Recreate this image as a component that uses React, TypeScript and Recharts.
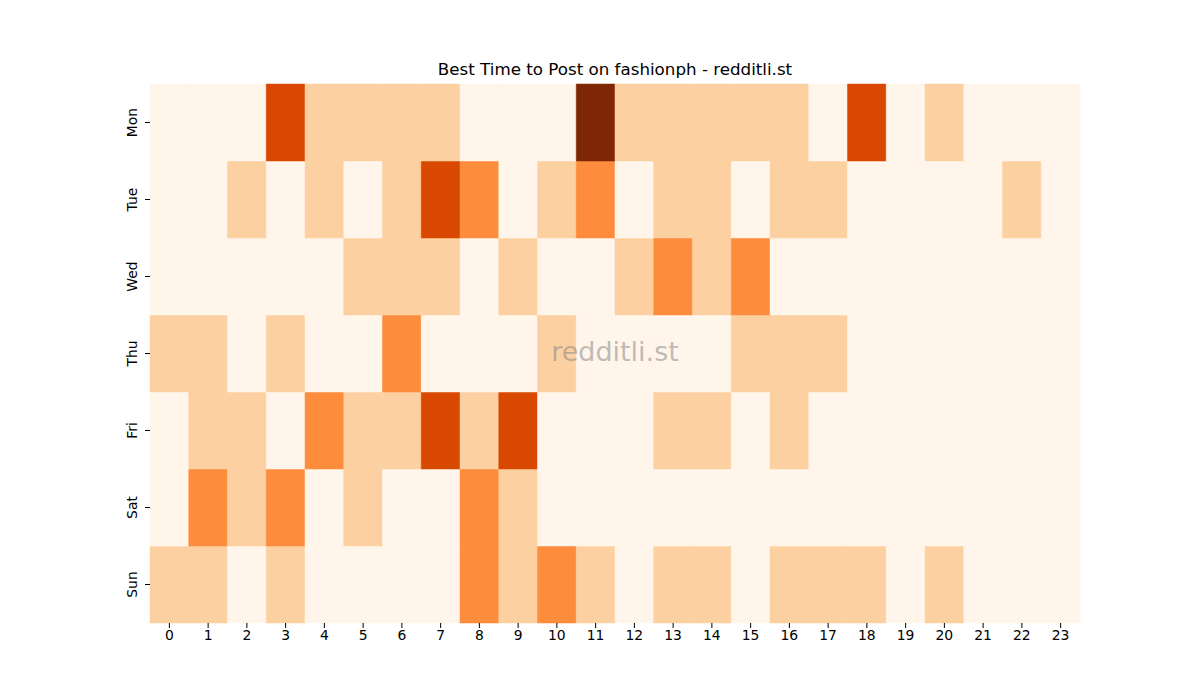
import { Bar, BarChart, Cell, XAxis, YAxis } from "recharts";

const hours = Array.from({ length: 24 }, (_, i) => String(i));
const days = ["Mon", "Tue", "Wed", "Thu", "Fri", "Sat", "Sun"];

// activity level per hour, 0 (lowest) .. 4 (highest)
const mon = [0, 0, 0, 3, 1, 1, 1, 1, 0, 0, 0, 4, 1, 1, 1, 1, 1, 0, 3, 0, 1, 0, 0, 0];
const tue = [0, 0, 1, 0, 1, 0, 1, 3, 2, 0, 1, 2, 0, 1, 1, 0, 1, 1, 0, 0, 0, 0, 1, 0];
const wed = [0, 0, 0, 0, 0, 1, 1, 1, 0, 1, 0, 0, 1, 2, 1, 2, 0, 0, 0, 0, 0, 0, 0, 0];
const thu = [1, 1, 0, 1, 0, 0, 2, 0, 0, 0, 1, 0, 0, 0, 0, 1, 1, 1, 0, 0, 0, 0, 0, 0];
const fri = [0, 1, 1, 0, 2, 1, 1, 3, 1, 3, 0, 0, 0, 1, 1, 0, 1, 0, 0, 0, 0, 0, 0, 0];
const sat = [0, 2, 1, 2, 0, 1, 0, 0, 2, 1, 0, 0, 0, 0, 0, 0, 0, 0, 0, 0, 0, 0, 0, 0];
const sun = [1, 1, 0, 1, 0, 0, 0, 0, 2, 1, 2, 1, 0, 1, 1, 0, 1, 1, 1, 0, 1, 0, 0, 0];

const levels: Record<string, number[]> = {
  Mon: mon,
  Tue: tue,
  Wed: wed,
  Thu: thu,
  Fri: fri,
  Sat: sat,
  Sun: sun,
};

// matplotlib "Oranges" steps
const palette = ["#fff5eb", "#fdd0a2", "#fd8d3c", "#d94801", "#7f2704"];

// every cell is one unit tall; stacking Sun first puts Mon on top
const stackOrder = [...days].reverse();
const rows = hours.map((h) => {
  const row: Record<string, string | number> = { hour: h };
  stackOrder.forEach((d) => (row[d] = 1));
  return row;
});

const font = "'DejaVu Sans', sans-serif";

function DayTick(props: any) {
  const { x, y, payload } = props;
  const label = days[6 - Math.floor(payload.value)];
  const tx = x - 6;
  return (
    <text
      x={tx}
      y={y}
      transform={`rotate(-90 ${tx} ${y})`}
      textAnchor="middle"
      fontSize={13.9}
      fontFamily={font}
      fill="#000"
    >
      {label}
    </text>
  );
}

export default function App() {
  return (
    <div
      style={{
        position: "absolute",
        left: 0,
        top: 0,
        width: 1200,
        height: 700,
        background: "#fff",
        fontFamily: font,
      }}
    >
      <div
        style={{
          position: "absolute",
          left: 0,
          width: 1230,
          top: 59,
          textAlign: "center",
          fontSize: 16.7,
          color: "#000",
        }}
      >
        Best Time to Post on fashionph - redditli.st
      </div>
      <BarChart
        width={1200}
        height={700}
        data={rows}
        barCategoryGap={0}
        barGap={0}
        margin={{ top: 84, right: 120, bottom: 47, left: 110 }}
      >
        <XAxis
          dataKey="hour"
          axisLine={false}
          tickLine={{ stroke: "#000" }}
          tickSize={5}
          height={30}
          interval={0}
          tick={{ fontSize: 13.9, fill: "#000", fontFamily: font }}
        />
        <YAxis
          type="number"
          domain={[0, 7]}
          ticks={[0.5, 1.5, 2.5, 3.5, 4.5, 5.5, 6.5]}
          axisLine={false}
          tickLine={{ stroke: "#000" }}
          tickSize={5}
          width={40}
          tick={<DayTick />}
        />
        {stackOrder.map((d) => (
          <Bar
            key={d}
            dataKey={d}
            stackId="grid"
            isAnimationActive={false}
          >
            {levels[d].map((v, i) => (
              <Cell
                key={i}
                fill={palette[v]}
                stroke={palette[v]}
                strokeWidth={0.5}
              />
            ))}
          </Bar>
        ))}
      </BarChart>
      <div
        style={{
          position: "absolute",
          left: 0,
          width: 1230,
          top: 336,
          textAlign: "center",
          fontSize: 27,
          color: "rgba(128,128,128,0.5)",
          pointerEvents: "none",
        }}
      >
        redditli.st
      </div>
    </div>
  );
}
